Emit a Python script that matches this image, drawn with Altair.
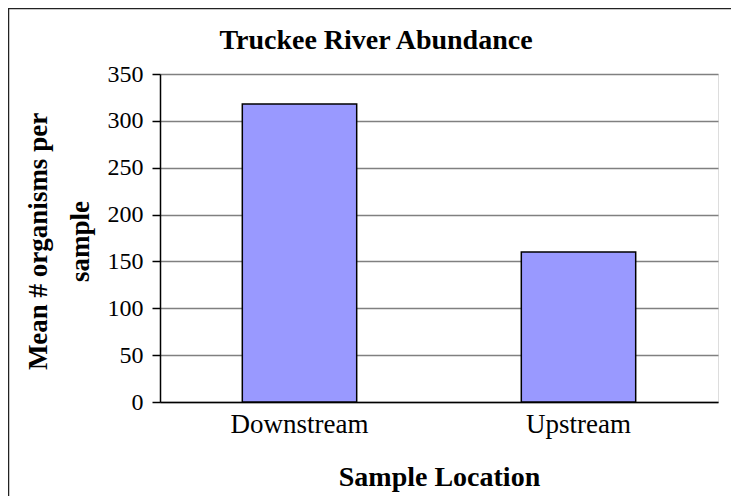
import altair as alt
import pandas as pd

locations = ["Downstream", "Upstream"]
means = [318, 160]
y_ticks = [0, 50, 100, 150, 200, 250, 300, 350]

df = pd.DataFrame({"Location": locations, "Mean": means})

FONT = "Liberation Serif"

bars = alt.Chart(df).mark_bar(
    color="#9999FF", stroke="#000000", strokeWidth=1.5
).encode(
    x=alt.X(
        "Location:N",
        sort=locations,
        scale=alt.Scale(paddingInner=0.59, paddingOuter=0.295),
        axis=alt.Axis(
            title="Sample Location",
            labelAngle=0,
            ticks=False,
            labelPadding=9,
            labelFontSize=27,
            labelFont=FONT,
            labelColor="#000000",
            titleFont=FONT,
            titleFontSize=28,
            titleFontWeight="bold",
            titleColor="#000000",
            titlePadding=26,
            domainColor="#000000",
            domainWidth=1.5,
        ),
    ),
    y=alt.Y(
        "Mean:Q",
        scale=alt.Scale(domain=[0, 350], nice=False),
        axis=alt.Axis(
            values=y_ticks,
            title=["Mean # organisms per", "sample"],
            titleAngle=-90,
            titleX=-135,
            titleY=167,
            titleAlign="center",
            titleBaseline="top",
            titleLineHeight=42,
            titleFont=FONT,
            titleFontSize=27,
            titleFontWeight="bold",
            titleColor="#000000",
            labelFont=FONT,
            labelFontSize=24,
            labelColor="#000000",
            labelPadding=9,
            tickSize=8,
            tickColor="#000000",
            tickWidth=1.5,
            domainColor="#000000",
            domainWidth=1.5,
            grid=True,
            gridColor="#808080",
            gridWidth=1.5,
        ),
    ),
)

border = alt.Chart(alt.Data(values=[{"k": 1}])).mark_rect(
    fillOpacity=0, stroke="#222222", strokeWidth=1.5
).encode(
    x=alt.value(-151.5), x2=alt.value(640),
    y=alt.value(-65.5), y2=alt.value(600),
)

chart = alt.layer(bars, border).properties(
    width=558,
    height=328,
    autosize=alt.AutoSizeParams(type="none"),
    padding={"left": 152, "top": 66, "right": 13, "bottom": 94},
    title=alt.Title(
        "Truckee River Abundance",
        font=FONT,
        fontSize=28,
        fontWeight="bold",
        color="#000000",
        anchor="middle",
        dx=-63,
        offset=-47,
    ),
).configure_view(
    stroke="#999999", strokeWidth=2
).configure(background="#ffffff")

chart.save("out.html", embed_options={"renderer": "svg", "actions": False})
